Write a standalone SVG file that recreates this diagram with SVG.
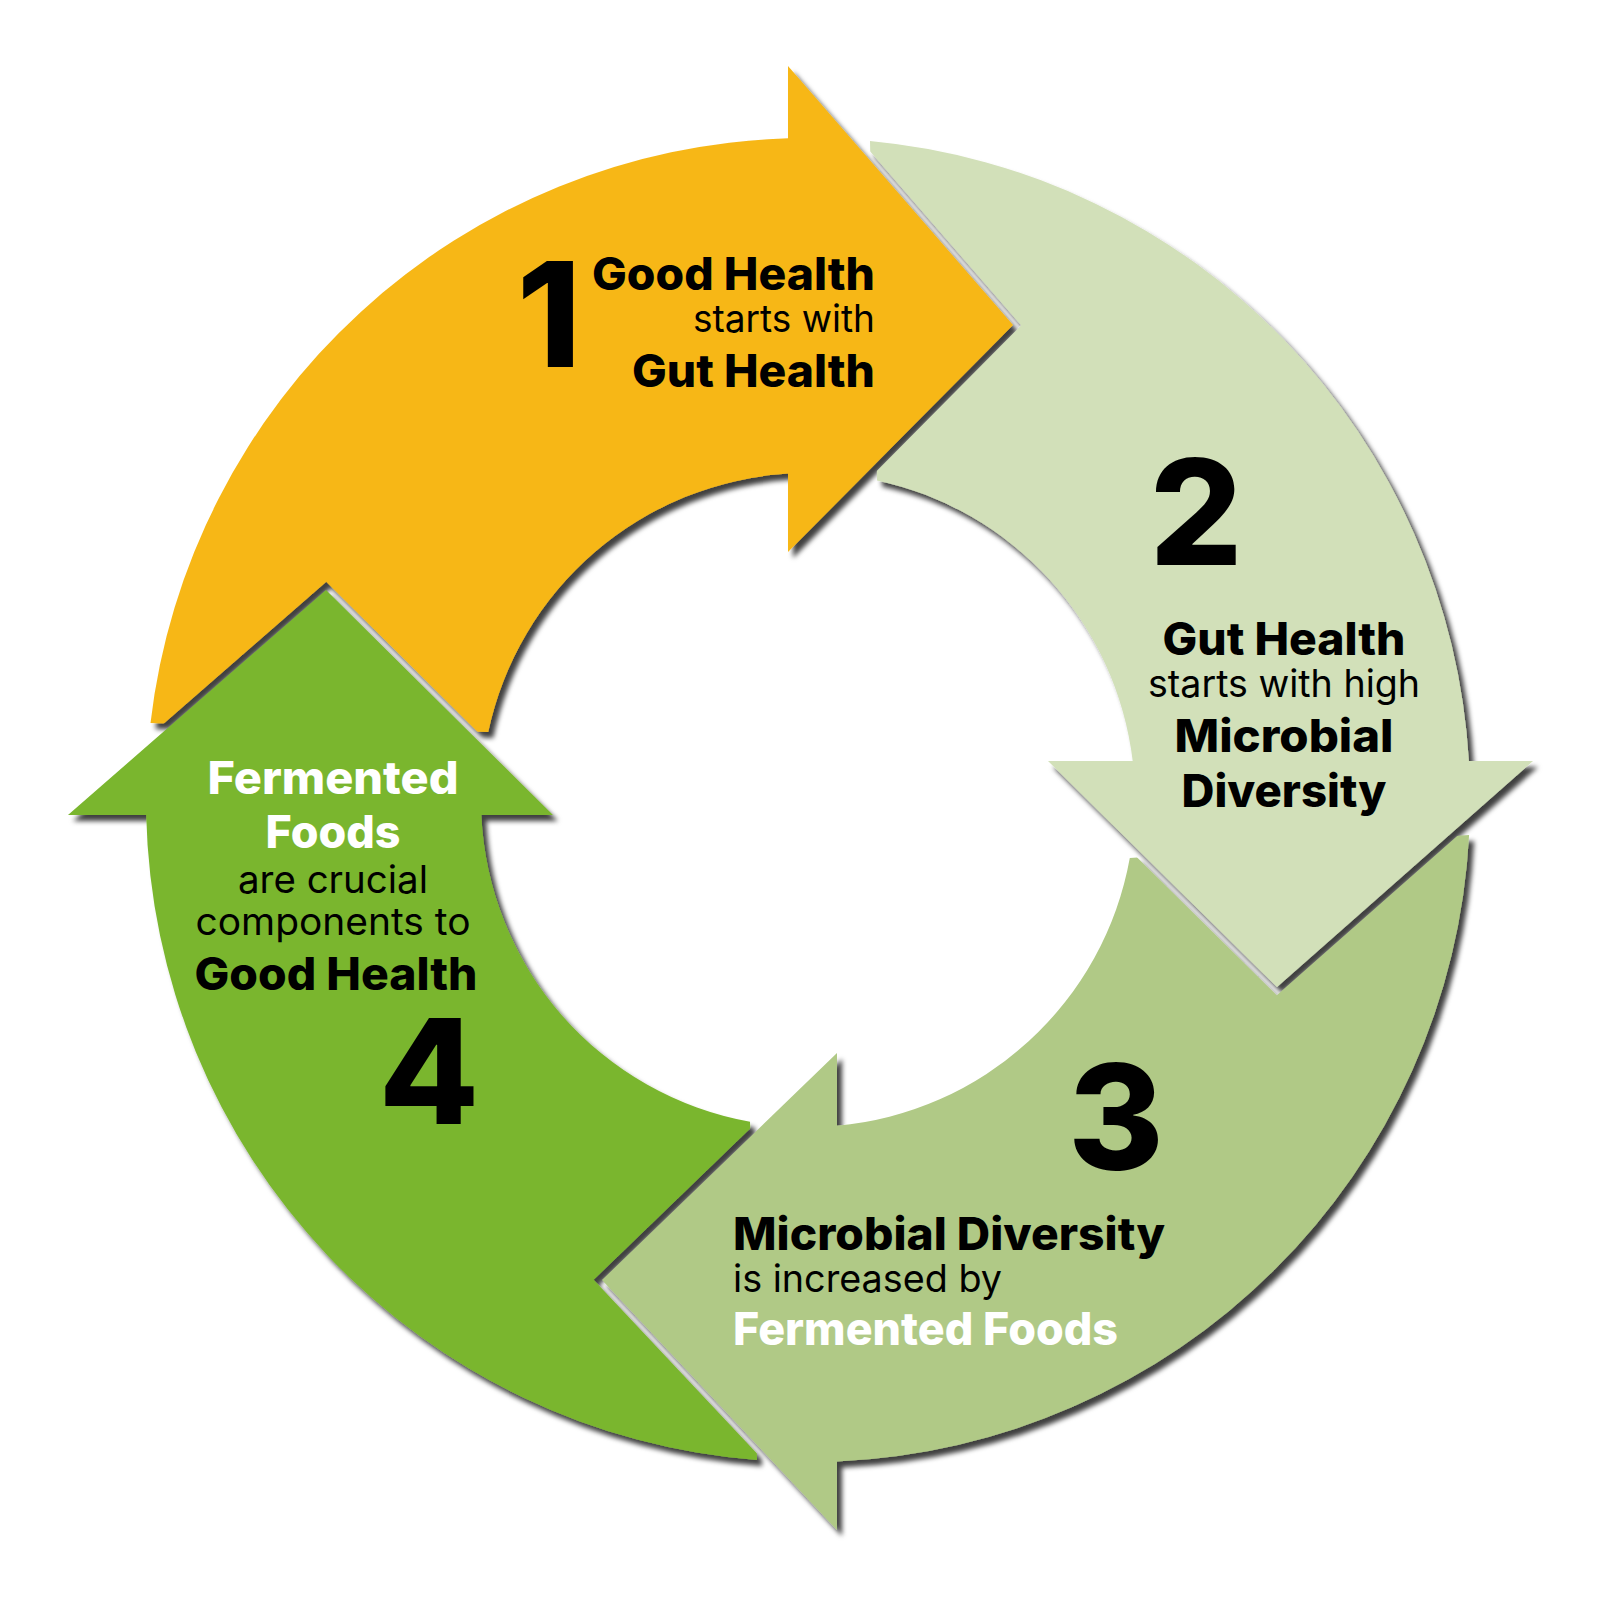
<svg xmlns="http://www.w3.org/2000/svg" width="1600" height="1608" viewBox="0 0 1600 1608">
  <style>
    .t { font-family: Inter, "DejaVu Sans", sans-serif; fill: #000; }
    .b { font-weight: 800; font-size: 45px; }
    .r { font-weight: 400; font-size: 38px; }
    .n { font-weight: 800; font-size: 146px; }
    .w { fill: #fff; }
    .s1 { fill: #F7B718; }
    .s2 { fill: #D2E0B9; }
    .s3 { fill: #B0C986; }
    .s4 { fill: #7AB62E; }
  </style>
  <defs>
    <filter id="sh" x="-10%" y="-10%" width="125%" height="125%">
      <feDropShadow dx="5" dy="6" stdDeviation="2.5" flood-color="#000" flood-opacity="0.75"/>
    </filter>
    <mask id="m1" maskUnits="userSpaceOnUse" x="0" y="0" width="1600" height="1608">
      <rect x="0" y="0" width="1600" height="1608" fill="#fff"/>
      <polygon points="68,815 326,590 553,815" fill="#000" stroke="#000" stroke-width="12"/>
    </mask>
    <mask id="m2" maskUnits="userSpaceOnUse" x="0" y="0" width="1600" height="1608">
      <rect x="0" y="0" width="1600" height="1608" fill="#fff"/>
      <polygon points="788,66 1013,325 788,552" fill="#000" stroke="#000" stroke-width="12"/>
    </mask>
    <mask id="m3" maskUnits="userSpaceOnUse" x="0" y="0" width="1600" height="1608">
      <rect x="0" y="0" width="1600" height="1608" fill="#fff"/>
      <polygon points="1048,761 1533,761 1277,987" fill="#000" stroke="#000" stroke-width="12"/>
    </mask>
    <mask id="m4" maskUnits="userSpaceOnUse" x="0" y="0" width="1600" height="1608">
      <rect x="0" y="0" width="1600" height="1608" fill="#fff"/>
      <polygon points="837,1053 602,1280 837,1530" fill="#000" stroke="#000" stroke-width="12"/>
    </mask>
  </defs>
  <rect x="0" y="0" width="1600" height="1608" fill="#fff"/>

  <g id="node1">
    <g filter="url(#sh)">
      <path class="s1" mask="url(#m1)" d="M150.5,723 A662,662 0 0 1 788,138.3 L788,66 L1013,325 L788,552 L788,473.6 A327,327 0 0 0 488.2,732 Z"/>
    </g>
    <text class="t n" x="549" y="367" text-anchor="middle">1</text>
    <text class="t b" x="875" y="290" text-anchor="end" textLength="283" lengthAdjust="spacingAndGlyphs">Good Health</text>
    <text class="t r" x="875" y="332" text-anchor="end" textLength="182" lengthAdjust="spacingAndGlyphs">starts with</text>
    <text class="t b" x="875" y="387" text-anchor="end" textLength="243" lengthAdjust="spacingAndGlyphs">Gut Health</text>
  </g>

  <g id="node2">
    <g filter="url(#sh)">
      <path class="s2" mask="url(#m2)" d="M870,140.9 A662,662 0 0 1 1468.9,761 L1533,761 L1277,987 L1048,761 L1132.7,761 A327,327 0 0 0 877,480.4 Z"/>
    </g>
    <text class="t n" x="1196" y="565" text-anchor="middle">2</text>
    <text class="t b" x="1284" y="655" text-anchor="middle" textLength="243" lengthAdjust="spacingAndGlyphs">Gut Health</text>
    <text class="t r" x="1284" y="697" text-anchor="middle" textLength="272" lengthAdjust="spacingAndGlyphs">starts with high</text>
    <text class="t b" x="1284" y="752" text-anchor="middle" textLength="219" lengthAdjust="spacingAndGlyphs">Microbial</text>
    <text class="t b" x="1284" y="807" text-anchor="middle" textLength="205" lengthAdjust="spacingAndGlyphs">Diversity</text>
  </g>

  <g id="node4">
    <g filter="url(#sh)">
      <path class="s4" mask="url(#m4)" d="M757,1460 A662,662 0 0 1 146.2,815 L68,815 L326,590 L553,815 L481.3,815 A327,327 0 0 0 750,1121.8 Z"/>
    </g>
    <text class="t n" x="429" y="1124" text-anchor="middle">4</text>
    <text class="t b w" x="333" y="794" text-anchor="middle" textLength="251" lengthAdjust="spacingAndGlyphs">Fermented</text>
    <text class="t b w" x="333" y="848" text-anchor="middle" textLength="135" lengthAdjust="spacingAndGlyphs">Foods</text>
    <text class="t r" x="333" y="893" text-anchor="middle" textLength="190" lengthAdjust="spacingAndGlyphs">are crucial</text>
    <text class="t r" x="333" y="935" text-anchor="middle" textLength="275" lengthAdjust="spacingAndGlyphs">components to</text>
    <text class="t b" x="336" y="990" text-anchor="middle" textLength="283" lengthAdjust="spacingAndGlyphs">Good Health</text>
  </g>

  <g id="node3">
    <g filter="url(#sh)">
      <path class="s3" mask="url(#m3)" d="M1469.1,835 A662,662 0 0 1 837,1461.4 L837,1530 L602,1280 L837,1053 L837,1125.7 A327,327 0 0 0 1129.8,858 Z"/>
    </g>
    <text class="t n" x="1116" y="1170" text-anchor="middle">3</text>
    <text class="t b" x="733" y="1250" textLength="432" lengthAdjust="spacingAndGlyphs">Microbial Diversity</text>
    <text class="t r" x="733" y="1292" textLength="269" lengthAdjust="spacingAndGlyphs">is increased by</text>
    <text class="t b w" x="733" y="1345" textLength="385" lengthAdjust="spacingAndGlyphs">Fermented Foods</text>
  </g>

  <g id="connectors"></g>
</svg>
